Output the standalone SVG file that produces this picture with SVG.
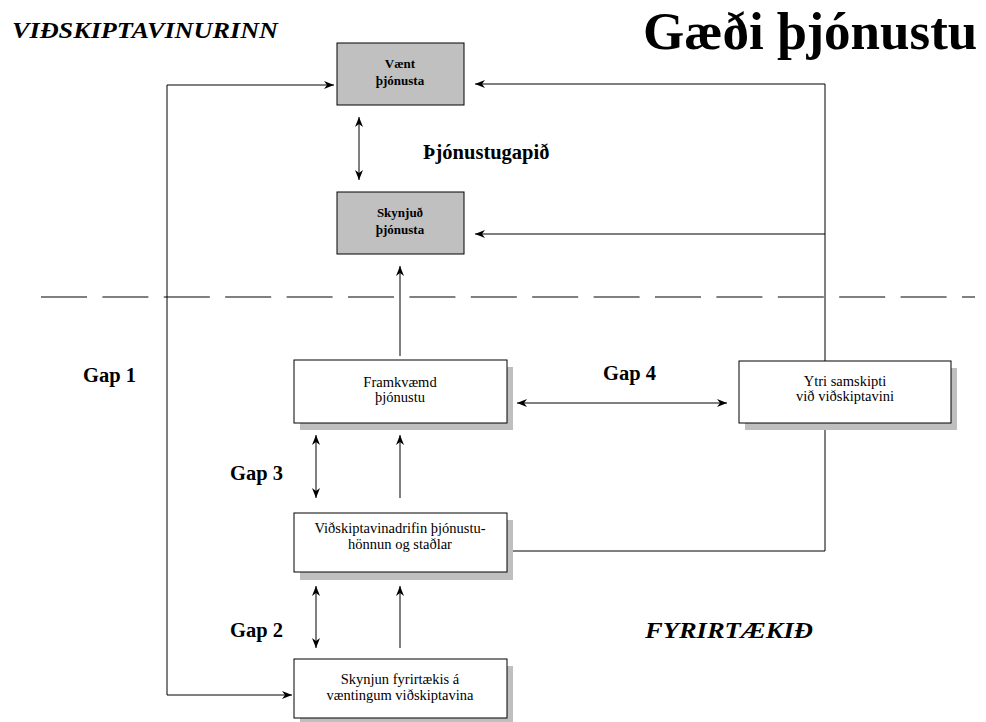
<svg xmlns="http://www.w3.org/2000/svg" width="986" height="722" viewBox="0 0 986 722">
<defs>
<marker id="ah" viewBox="0 0 10 8" refX="10" refY="4" markerWidth="10" markerHeight="8" markerUnits="userSpaceOnUse" orient="auto-start-reverse">
<path d="M0,0 L10,4 L0,8 L3,4 Z" fill="#000"/>
</marker>
</defs>
<style>
.gray{fill:#c0c0c0;stroke:#000;stroke-width:1}
.box{fill:#fff;stroke:#000;stroke-width:1}
.sh{fill:#bfbfbf;stroke:none}
.ln{fill:none;stroke:#000;stroke-width:1}
.ar{fill:none;stroke:#000;stroke-width:1;marker-end:url(#ah)}
.da{fill:none;stroke:#000;stroke-width:1;marker-end:url(#ah);marker-start:url(#ah)}
.bt{font-family:"Liberation Serif",serif;font-size:13px;font-weight:bold;text-anchor:middle}
.nt{font-family:"Liberation Serif",serif;font-size:14.5px;text-anchor:middle}
.lb{font-family:"Liberation Serif",serif;font-size:20.5px;font-weight:bold}
.it{font-family:"Liberation Serif",serif;font-size:24px;font-weight:bold;font-style:italic}
</style>
<rect width="986" height="722" fill="#fff"/>
<text class="it" x="12" y="38" textLength="266" lengthAdjust="spacingAndGlyphs">VIÐSKIPTAVINURINN</text>
<text x="643" y="49" style="font-family:'Liberation Serif',serif;font-size:53px;font-weight:bold">Gæði þjónustu</text>
<text class="it" x="645" y="638" textLength="168" lengthAdjust="spacingAndGlyphs">FYRIRTÆKIÐ</text>
<text class="lb" x="423" y="159">Þjónustugapið</text>
<text class="lb" x="83" y="382">Gap 1</text>
<text class="lb" x="603" y="380">Gap 4</text>
<text class="lb" x="230" y="480">Gap 3</text>
<text class="lb" x="230" y="637">Gap 2</text>
<line x1="41" y1="297" x2="975" y2="297" style="stroke:#808080;stroke-width:2;stroke-dasharray:46 15.4"/>
<g id="connectors">
<polyline class="ln" points="825,84 825,551 507,551"/>
<line class="ar" x1="825" y1="84" x2="475" y2="84"/>
<line class="ar" x1="825" y1="234" x2="475" y2="234"/>
<polyline class="ar" points="167,695 167,85 334,85"/>
<line class="ar" x1="167" y1="695" x2="292" y2="695"/>
<line class="da" x1="359" y1="117" x2="359" y2="180"/>
<line class="ar" x1="400" y1="356" x2="400" y2="266"/>
<line class="da" x1="517" y1="403" x2="727" y2="403"/>
<line class="da" x1="316" y1="435" x2="316" y2="498"/>
<line class="ar" x1="400" y1="498" x2="400" y2="435"/>
<line class="da" x1="316" y1="586" x2="316" y2="648"/>
<line class="ar" x1="400" y1="648" x2="400" y2="586"/>
</g>
<g id="vaent">
<rect class="gray" x="337" y="43" width="127" height="62"/>
<text class="bt" x="400" y="68">Vænt</text>
<text class="bt" x="400" y="85">þjónusta</text>
</g>
<g id="skynjud">
<rect class="gray" x="337" y="192" width="127" height="62"/>
<text class="bt" x="400" y="217">Skynjuð</text>
<text class="bt" x="400" y="234">þjónusta</text>
</g>
<g id="framkvaemd">
<rect class="sh" x="300" y="367" width="213" height="63"/>
<rect class="box" x="294" y="360" width="213" height="63"/>
<text class="nt" x="400" y="387">Framkvæmd</text>
<text class="nt" x="400" y="402">þjónustu</text>
</g>
<g id="ytri">
<rect class="sh" x="745" y="368" width="212" height="62"/>
<rect class="box" x="739" y="361" width="212" height="62"/>
<text class="nt" x="845" y="386">Ytri samskipti</text>
<text class="nt" x="845" y="401">við viðskiptavini</text>
</g>
<g id="vidskiptavinadrifin">
<rect class="sh" x="300" y="520" width="213" height="60"/>
<rect class="box" x="294" y="513" width="213" height="59"/>
<text class="nt" x="400" y="533">Viðskiptavinadrifin þjónustu-</text>
<text class="nt" x="400" y="549">hönnun og staðlar</text>
</g>
<g id="skynjun">
<rect class="sh" x="300" y="666" width="213" height="60"/>
<rect class="box" x="294" y="659" width="213" height="59"/>
<text class="nt" x="400" y="684">Skynjun fyrirtækis á</text>
<text class="nt" x="400" y="700">væntingum viðskiptavina</text>
</g>
</svg>
